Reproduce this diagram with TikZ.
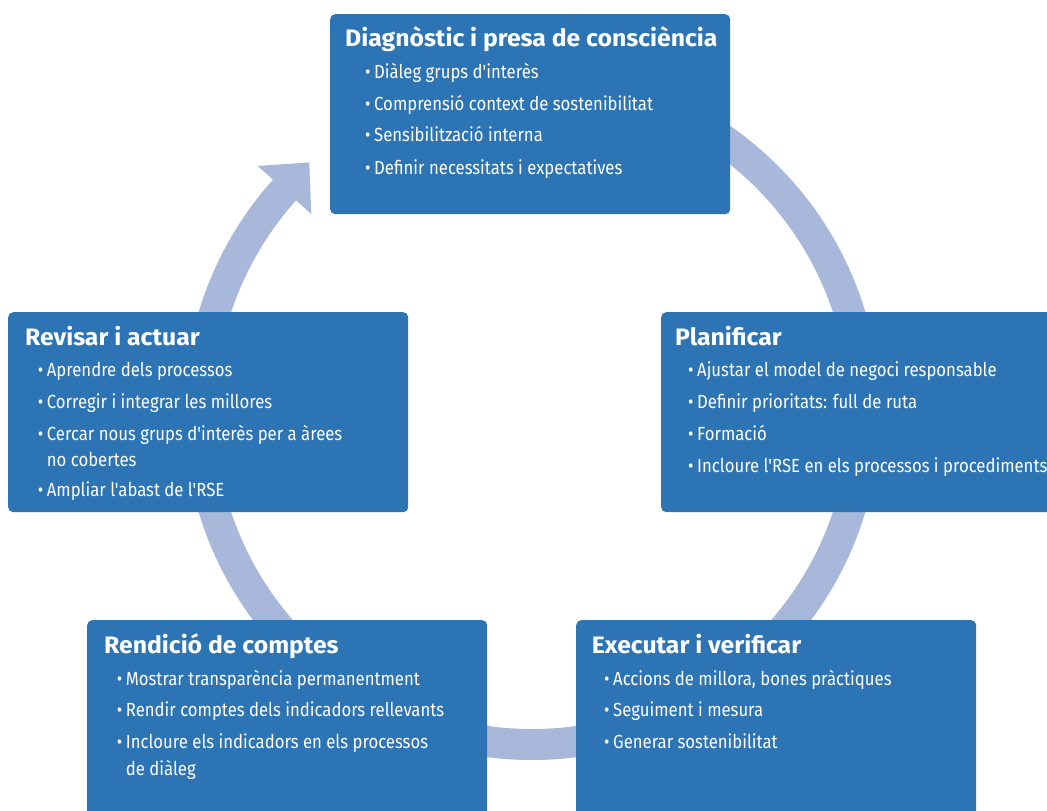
\documentclass[tikz,border=0pt]{standalone}
\usepackage{fontspec}
\setmainfont{Fira Sans}
\newfontfamily\itemfont[FakeStretch=0.88]{Fira Sans}
\newfontfamily\headfont[FakeStretch=1.04]{Fira Sans}
\usetikzlibrary{calc}
\definecolor{boxblue}{RGB}{44,116,180}
\definecolor{ringblue}{RGB}{168,184,218}
\newcommand{\bul}{\makebox[9pt][l]{•}}
\tikzset{
  box/.style={fill=boxblue, rounded corners=5pt, minimum width=400pt, minimum height=200pt, anchor=north west, inner sep=0pt},
  headtxt/.style={text=white, inner sep=0pt, anchor=base west, font=\headfont\bfseries\fontsize{23.8}{24}\selectfont},
  itemtxt/.style={text=white, inner sep=0pt, anchor=base west, font=\itemfont\fontsize{19}{20}\selectfont},
  ring/.style={draw=ringblue, line width=31pt, line cap=butt}
}
\begin{document}
\begin{tikzpicture}[x=1pt,y=-1pt]
\useasboundingbox (0,0) rectangle (1047,811);
\clip (0,0) rectangle (1047,811);
\coordinate (C) at (532,412);
% ring with arrow
\draw[ring] (C) ++(-90:332.5) arc[start angle=-90, end angle=222.2, radius=332.5];
\coordinate (tip) at ($(C)+(221.9:332.5)+(311.9:37)$);
\coordinate (barbout) at ($(C)+(221.9:368.5)$);
\coordinate (barbin) at ($(C)+(221.9:296.5)$);
\fill[ringblue] (barbout) -- (tip) -- (barbin) -- cycle;
% boxes
\node[box] (b1) at (330,14) {};
\node[box] (b2) at (661,312) {};
\node[box] (b3) at (576,620) {};
\node[box] (b4) at (87,620) {};
\node[box] (b5) at (8,312) {};
% top box
\node[headtxt] (h1) at (345,46) {Diagnòstic i presa de consciència};
\node[itemtxt] (i11) at (365,78.3) {\bul Diàleg grups d'interès};
\node[itemtxt] (i12) at (365,110) {\bul Comprensió context de sostenibilitat};
\node[itemtxt] (i13) at (365,141.7) {\bul Sensibilització interna};
\node[itemtxt] (i14) at (365,174) {\bul Definir necessitats i expectatives};
% Planificar
\node[headtxt] (h2) at (675,345) {Planificar};
\node[itemtxt] (i21) at (688,376.7) {\bul Ajustar el model de negoci responsable};
\node[itemtxt] (i22) at (688,408) {\bul Definir prioritats: full de ruta};
\node[itemtxt] (i23) at (688,440) {\bul Formació};
\node[itemtxt] (i24) at (688,472.7) {\bul Incloure l'RSE en els processos i procediments};
% Executar
\node[headtxt] (h3) at (591.7,653.3) {Executar i verificar};
\node[itemtxt] (i31) at (604,685) {\bul Accions de millora, bones pràctiques};
\node[itemtxt] (i32) at (604,716.7) {\bul Seguiment i mesura};
\node[itemtxt] (i33) at (604,748.3) {\bul Generar sostenibilitat};
% Rendicio
\node[headtxt] (h4) at (104,653.3) {Rendició de comptes};
\node[itemtxt] (i41) at (116.7,685) {\bul Mostrar transparència permanentment};
\node[itemtxt] (i42) at (116.7,716.7) {\bul Rendir comptes dels indicadors rellevants};
\node[itemtxt] (i43) at (116.7,748.3) {\bul Incloure els indicadors en els processos};
\node[itemtxt] (i44) at (125.7,775) {de diàleg};
% Revisar
\node[headtxt] (h5) at (25,345) {Revisar i actuar};
\node[itemtxt] (i51) at (37.7,376) {\bul Aprendre dels processos};
\node[itemtxt] (i52) at (37.7,408) {\bul Corregir i integrar les millores};
\node[itemtxt] (i53) at (37.7,440) {\bul Cercar nous grups d'interès per a àrees};
\node[itemtxt] (i54) at (46.7,466) {no cobertes};
\node[itemtxt] (i55) at (37.7,496.7) {\bul Ampliar l'abast de l'RSE};
\end{tikzpicture}
\end{document}
